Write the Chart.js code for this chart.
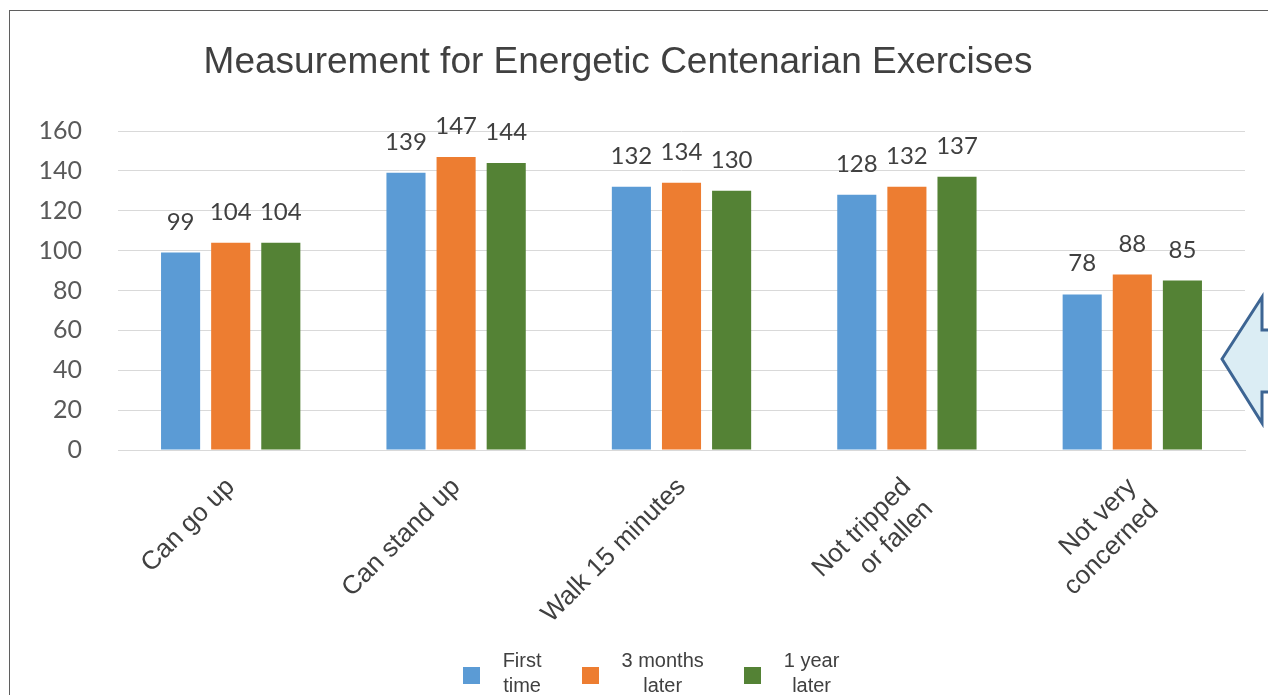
<!DOCTYPE html>
<html>
<head>
<meta charset="utf-8">
<script src="https://cdn.jsdelivr.net/npm/chart.js@4.4.0/dist/chart.umd.min.js"></script>
<style>
    html, body { margin: 0; padding: 0; background: #fff; overflow: hidden; }
    .stage { position: relative; width: 1268px; height: 695px; }
    .frame {
        position: absolute; left: 9px; top: 10px; width: 1300px; height: 720px;
        border: 1px solid #5f5f5f; box-sizing: border-box;
    }
    #chart { position: absolute; left: 0; top: 0; }
    .legend {
        position: absolute; top: 648px; left: 0; width: 1302px;
        display: flex; justify-content: center; gap: 40px;
        font-family: "Liberation Sans", Arial, sans-serif; font-size: 20px; line-height: 25px; color: #404040;
    }
    .legend-item { display: flex; align-items: center; }
    .legend-box { width: 17px; height: 17px; margin-right: 23px; margin-top: 4px; }
    .legend-text { text-align: center; }
    .arrow { position: absolute; left: 0; top: 0; }
</style>
</head>
<body>
<div class="stage">
    <div class="frame"></div>
    <canvas id="chart" width="1268" height="695"></canvas>
    <svg class="arrow" width="1268" height="695">
        <polygon points="1222,359 1262,297 1262,330 1300,330 1300,392 1262,392 1262,423"
                 fill="#dbedf4" stroke="#3d6593" stroke-width="3" stroke-linejoin="miter"/>
    </svg>
    <div class="legend" id="legend"></div>
</div>
<script>
const TITLE = 'Measurement for Energetic Centenarian Exercises';
const CATEGORIES = [
    'Can go up',
    'Can stand up',
    'Walk 15 minutes',
    ['Not tripped', 'or fallen'],
    ['Not very', 'concerned']
];
const SERIES_NAMES = [['First', 'time'], ['3 months', 'later'], ['1 year', 'later']];
const SERIES_COLORS = ['#5b9bd5', '#ed7d31', '#548235'];
const FIRST_TIME = [99, 139, 132, 128, 78];
const THREE_MONTHS = [104, 147, 134, 132, 88];
const ONE_YEAR = [104, 144, 130, 137, 85];
const Y_TICKS = [0, 20, 40, 60, 80, 100, 120, 140, 160];

// Title drawn off-centre like the original
const titlePlugin = {
    id: 'titleText',
    afterDraw(chart) {
        const ctx = chart.ctx;
        ctx.save();
        ctx.font = '37px "Liberation Sans", Arial, sans-serif';
        ctx.fillStyle = '#404040';
        ctx.textAlign = 'center';
        ctx.textBaseline = 'middle';
        ctx.fillText(TITLE, 618, 63);
        ctx.restore();
    }
};

// Value labels above each bar
const valueLabels = {
    id: 'valueLabels',
    afterDatasetsDraw(chart) {
        const ctx = chart.ctx;
        ctx.save();
        ctx.font = '24px Lato, "Open Sans", sans-serif';
        ctx.fillStyle = '#404040';
        ctx.textAlign = 'center';
        ctx.textBaseline = 'alphabetic';
        chart.data.datasets.forEach((ds, i) => {
            chart.getDatasetMeta(i).data.forEach((bar, j) => {
                ctx.fillText(String(ds.data[j]), bar.x, bar.y - 23);
            });
        });
        ctx.restore();
    }
};

const seriesData = [FIRST_TIME, THREE_MONTHS, ONE_YEAR];

const chart = new Chart(document.getElementById('chart'), {
    type: 'bar',
    data: {
        labels: CATEGORIES,
        datasets: seriesData.map((d, i) => ({
            label: SERIES_NAMES[i].join(' '),
            data: d,
            backgroundColor: SERIES_COLORS[i],
            categoryPercentage: 0.667,
            barPercentage: 0.78
        }))
    },
    options: {
        responsive: false,
        animation: false,
        devicePixelRatio: 1,
        layout: { padding: { top: 131, right: 23, left: 0, bottom: 0 } },
        plugins: {
            legend: { display: false },
            title: { display: false },
            tooltip: { enabled: false }
        },
        scales: {
            x: {
                grid: { display: false },
                border: { display: true, color: '#d9d9d9' },
                ticks: {
                    color: '#404040',
                    font: { family: '"Liberation Sans", Arial, sans-serif', size: 26 },
                    maxRotation: 45,
                    minRotation: 45,
                    padding: 14
                },
                afterFit: (scale) => { scale.height = 245; }
            },
            y: {
                min: 0,
                max: 160,
                afterBuildTicks: (scale) => { scale.ticks = Y_TICKS.map(v => ({ value: v })); },
                grid: { color: '#d9d9d9', drawTicks: false },
                border: { display: false },
                ticks: {
                    color: '#595959',
                    font: { family: 'Lato, "Open Sans", sans-serif', size: 25 },
                    padding: 36
                },
                afterFit: (scale) => { scale.width = 118; }
            }
        }
    },
    plugins: [titlePlugin, valueLabels]
});

// HTML legend with two-line labels
const legendEl = document.getElementById('legend');
SERIES_NAMES.forEach((name, i) => {
    const item = document.createElement('div');
    item.className = 'legend-item';
    item.innerHTML = `
        <div class="legend-box" style="background:${SERIES_COLORS[i]}"></div>
        <div class="legend-text">${name[0]}<br>${name[1]}</div>
    `;
    legendEl.appendChild(item);
});
</script>
</body>
</html>
